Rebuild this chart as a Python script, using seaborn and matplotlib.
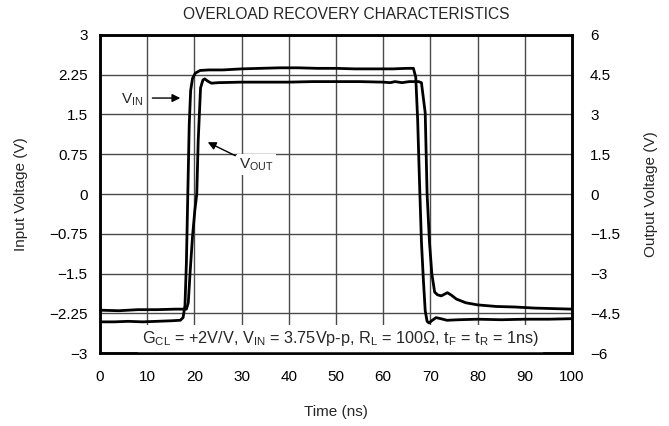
import matplotlib
matplotlib.use('Agg')
import matplotlib.pyplot as plt
import seaborn as sns

# time axis in ns, traces
vin_time = [0, 3, 6, 9, 12, 15, 17, 17.6, 18.0, 18.3, 18.6, 18.9, 19.2, 19.6, 20.2, 21.2,
            23, 26, 30, 34, 38, 42, 46, 50, 54, 58, 62, 65, 66.4, 66.9, 67.3, 67.7, 68.1,
            68.5, 68.9, 69.3, 69.7, 70.4, 71.2, 72.2, 73.5, 76, 80, 85, 90, 95, 100]
vin_volts = [-2.41, -2.41, -2.40, -2.41, -2.40, -2.39, -2.38, -2.33, -2.1, -1.3, 0.0, 1.3,
             1.95, 2.18, 2.28, 2.33, 2.34, 2.34, 2.36, 2.37, 2.38, 2.38, 2.37, 2.37, 2.36,
             2.36, 2.36, 2.37, 2.37, 2.2, 1.4, 0.2, -0.9, -1.6, -2.2, -2.40, -2.43, -2.38,
             -2.33, -2.35, -2.38, -2.37, -2.36, -2.37, -2.36, -2.36, -2.35]

vout_time = [0, 4, 8, 12, 16, 18.3, 18.7, 19.1, 19.6, 20.1, 20.5, 20.8, 21.3, 21.8, 22.2,
             22.8, 23.6, 25, 30, 35, 40, 45, 50, 55, 60, 61.5, 62.5, 64, 65.5, 67.5, 68.1,
             68.9, 69.3, 69.8, 70.3, 70.9, 71.5, 72.3, 73.6, 74.5, 75.5, 77.5, 80, 84, 88,
             92, 96, 100]
vout_volts = [-4.38, -4.40, -4.36, -4.36, -4.34, -4.34, -4.10, -2.92, -1.6, -0.6, 0.0, 2.0,
              4.0, 4.30, 4.34, 4.26, 4.18, 4.20, 4.22, 4.22, 4.22, 4.24, 4.24, 4.24, 4.22,
              4.20, 4.24, 4.20, 4.24, 4.24, 4.20, 3.06, 0.0, -1.8, -3.0, -3.70, -3.80, -3.84,
              -3.72, -3.82, -3.96, -4.10, -4.18, -4.24, -4.26, -4.30, -4.32, -4.34]

time_ticks = [0, 10, 20, 30, 40, 50, 60, 70, 80, 90, 100]
input_ticks = [-3, -2.25, -1.5, -0.75, 0, 0.75, 1.5, 2.25, 3]
output_ticks = [-6, -4.5, -3, -1.5, 0, 1.5, 3, 4.5, 6]

sns.set_theme(style='white')
plt.rcParams['font.family'] = ['Liberation Sans', 'DejaVu Sans']
plt.rcParams['mathtext.fontset'] = 'custom'
plt.rcParams['mathtext.rm'] = 'Liberation Sans'
plt.rcParams['mathtext.it'] = 'Liberation Sans:italic'

fig, ax = plt.subplots(figsize=(6.69, 4.26), dpi=100)
fig.subplots_adjust(left=0.1495, right=0.855, top=0.918, bottom=0.171)
ax2 = ax.twinx()

sns.lineplot(x=vin_time, y=vin_volts, ax=ax, color='black', linewidth=2.0,
             estimator=None, sort=False)
sns.lineplot(x=vout_time, y=vout_volts, ax=ax2, color='black', linewidth=2.0,
             estimator=None, sort=False)

ax.set_xlim(0, 100)
ax.set_ylim(-3, 3)
ax2.set_ylim(-6, 6)
ax.set_xticks(time_ticks)
ax.set_yticks(input_ticks)
ax2.set_yticks(output_ticks)
ax.set_xticklabels([str(t) for t in time_ticks])
ax.set_yticklabels(['\u22123', '\u22122.25', '\u22121.5', '\u22120.75', '0', '0.75', '1.5', '2.25', '3'])
ax2.set_yticklabels(['\u22126', '\u22124.5', '\u22123', '\u22121.5', '0', '1.5', '3', '4.5', '6'])

ax.grid(True, color='#4a4a4a', linewidth=1.0)
ax.set_axisbelow(True)
ax.tick_params(axis='both', length=0, labelsize=11, colors='black')
ax.tick_params(axis='x', pad=12)
ax.tick_params(axis='y', pad=9)
ax2.tick_params(axis='y', length=0, labelsize=11, colors='black', pad=13)
for a in (ax, ax2):
    for s in a.spines.values():
        s.set_color('black')
        s.set_linewidth(1.8)

ax.set_xlabel('Time (ns)', fontsize=11, labelpad=15)
ax.set_ylabel('Input Voltage (V)', fontsize=11, labelpad=15)
ax2.set_ylabel('Output Voltage (V)', fontsize=11, labelpad=17)
fig.text(0.517, 0.967, 'OVERLOAD RECOVERY CHARACTERISTICS', ha='center', va='center', fontsize=11.2)

white = dict(facecolor='white', edgecolor='none', pad=1.5)
ax.text(4.5, 1.78, r'V$_\mathrm{IN}$', fontsize=11, ha='left', va='center', bbox=white)
ax.annotate('', xy=(17.6, 1.81), xytext=(10.5, 1.81),
            arrowprops=dict(arrowstyle='-|>', color='black', lw=1.0, mutation_scale=12))
ax.text(29.5, 0.56, r'V$_\mathrm{OUT}$', fontsize=11, ha='left', va='center', bbox=white)
ax.annotate('', xy=(22.3, 1.0), xytext=(29.2, 0.70),
            arrowprops=dict(arrowstyle='-|>', color='black', lw=1.0, mutation_scale=12))
ax.text(51, -2.73, r'G$_\mathrm{CL}$ = +2V/V, V$_\mathrm{IN}$ = 3.75Vp-p, R$_\mathrm{L}$ = 100Ω, '
        r't$_\mathrm{F}$ = t$_\mathrm{R}$ = 1ns)', fontsize=11.7, ha='center', va='center',
        bbox=dict(facecolor='white', edgecolor='none', pad=3))

fig.savefig('out.png', dpi=100)
